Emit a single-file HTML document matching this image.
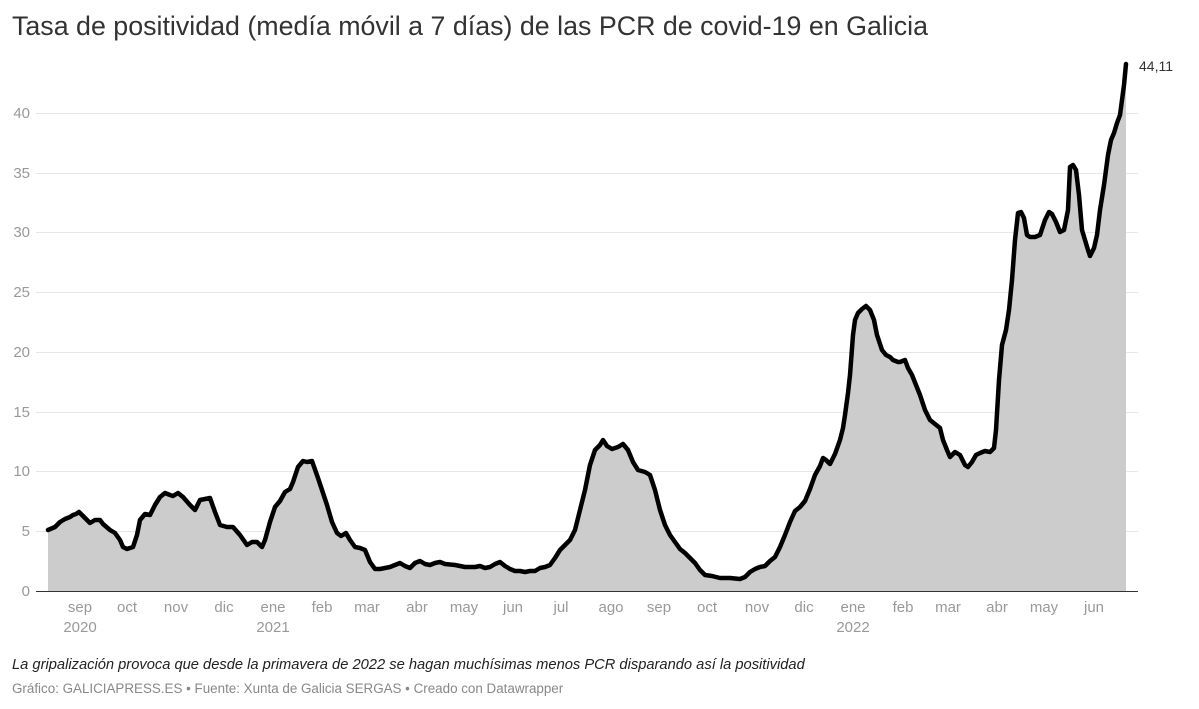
<!DOCTYPE html>
<html><head><meta charset="utf-8"><style>
html,body{margin:0;padding:0;background:#fff;width:1199px;height:709px;overflow:hidden;font-family:"Liberation Sans",sans-serif}
.t{position:absolute;left:12px;top:11px;font-size:26.8px;color:#333}
.n{position:absolute;left:12px;top:657px;font-size:14.7px;font-style:italic;color:#222}
.f{position:absolute;left:12px;top:681px;font-size:13.4px;color:#888}
</style></head><body>
<div class="t">Tasa de positividad (medía móvil a 7 días) de las PCR de covid-19 en Galicia</div>
<svg width="1199" height="709" style="position:absolute;left:0;top:0" font-family="Liberation Sans, sans-serif">
<g stroke="#e6e6e6" stroke-width="1">
<line x1="36" x2="1138" y1="113.5" y2="113.5"/><line x1="36" x2="1138" y1="173.5" y2="173.5"/><line x1="36" x2="1138" y1="232.5" y2="232.5"/><line x1="36" x2="1138" y1="292.5" y2="292.5"/><line x1="36" x2="1138" y1="352.5" y2="352.5"/><line x1="36" x2="1138" y1="412.5" y2="412.5"/><line x1="36" x2="1138" y1="471.5" y2="471.5"/><line x1="36" x2="1138" y1="531.5" y2="531.5"/>
</g>
<g fill="#999" font-size="15" text-anchor="end">
<text x="30" y="118">40</text><text x="30" y="178">35</text><text x="30" y="237">30</text><text x="30" y="297">25</text><text x="30" y="357">20</text><text x="30" y="417">15</text><text x="30" y="476">10</text><text x="30" y="536">5</text><text x="30" y="596">0</text>
</g>
<polygon fill="#cccccc" points="48,591 48,530 55,527 60,522 65,519 70,517 73,515 76,514 79,512 85,518 90,523 95,520 100,520 103,524 110,530 115,533 120,540 123,547 127,549 133,547 137,535 140,520 145,514 150,515 155,505 160,497 165,493 170,495 173,496 178,493 183,497 190,505 195,510 200,500 210,498 215,512 220,525 227,527 233,527 240,535 247,545 252,542 257,542 262,547 265,540 270,522 275,507 280,501 285,492 290,489 293,482 298,467 303,461 307,462 312,461 318,478 322,490 327,505 332,522 337,533 341,536 346,533 350,540 355,547 360,548 365,550 370,562 375,569 380,569 385,568 390,567 395,565 400,563 405,566 410,568 415,563 420,561 425,564 430,565 435,563 440,562 445,564 455,565 465,567 475,567 480,566 485,568 490,567 495,564 500,562 505,566 510,569 515,571 520,571 525,572 530,571 535,571 540,568 545,567 550,565 555,558 560,550 565,545 570,540 575,530 580,510 585,490 590,465 595,450 600,445 603,440 607,446 612,449 618,447 623,444 628,450 633,462 638,470 645,472 650,475 655,490 660,510 665,525 670,535 675,542 680,549 685,553 690,558 695,563 700,570 705,575 712,576 720,578 730,578 740,579 745,577 750,572 755,569 760,567 765,566 770,561 775,557 780,547 785,535 790,522 795,511 800,507 805,501 810,489 815,475 820,466 823,458 826,460 830,464 835,454 840,440 843,428 845,415 848,393 850,375 853,335 855,320 858,313 862,309 866,306 870,310 874,320 877,335 882,350 886,355 890,357 893,360 898,362 900,362 905,360 908,368 912,375 916,385 920,395 925,410 930,420 935,424 940,428 943,440 947,450 950,457 955,452 960,455 965,465 968,467 972,462 976,455 980,453 985,451 990,452 994,448 996,430 999,380 1002,345 1006,330 1009,310 1012,280 1015,240 1018,213 1021,212 1024,218 1027,235 1030,237 1035,237 1040,235 1045,220 1049,212 1052,214 1056,222 1060,232 1064,230 1068,210 1070,167 1073,165 1076,170 1079,195 1082,230 1085,240 1088,250 1090,256 1094,248 1097,235 1100,210 1104,185 1108,155 1111,140 1114,133 1117,123 1120,115 1122,100 1124,85 1126,64 1126,591"/>
<polyline fill="none" stroke="#000" stroke-width="4.5" stroke-linejoin="round" stroke-linecap="round" points="48,530 55,527 60,522 65,519 70,517 73,515 76,514 79,512 85,518 90,523 95,520 100,520 103,524 110,530 115,533 120,540 123,547 127,549 133,547 137,535 140,520 145,514 150,515 155,505 160,497 165,493 170,495 173,496 178,493 183,497 190,505 195,510 200,500 210,498 215,512 220,525 227,527 233,527 240,535 247,545 252,542 257,542 262,547 265,540 270,522 275,507 280,501 285,492 290,489 293,482 298,467 303,461 307,462 312,461 318,478 322,490 327,505 332,522 337,533 341,536 346,533 350,540 355,547 360,548 365,550 370,562 375,569 380,569 385,568 390,567 395,565 400,563 405,566 410,568 415,563 420,561 425,564 430,565 435,563 440,562 445,564 455,565 465,567 475,567 480,566 485,568 490,567 495,564 500,562 505,566 510,569 515,571 520,571 525,572 530,571 535,571 540,568 545,567 550,565 555,558 560,550 565,545 570,540 575,530 580,510 585,490 590,465 595,450 600,445 603,440 607,446 612,449 618,447 623,444 628,450 633,462 638,470 645,472 650,475 655,490 660,510 665,525 670,535 675,542 680,549 685,553 690,558 695,563 700,570 705,575 712,576 720,578 730,578 740,579 745,577 750,572 755,569 760,567 765,566 770,561 775,557 780,547 785,535 790,522 795,511 800,507 805,501 810,489 815,475 820,466 823,458 826,460 830,464 835,454 840,440 843,428 845,415 848,393 850,375 853,335 855,320 858,313 862,309 866,306 870,310 874,320 877,335 882,350 886,355 890,357 893,360 898,362 900,362 905,360 908,368 912,375 916,385 920,395 925,410 930,420 935,424 940,428 943,440 947,450 950,457 955,452 960,455 965,465 968,467 972,462 976,455 980,453 985,451 990,452 994,448 996,430 999,380 1002,345 1006,330 1009,310 1012,280 1015,240 1018,213 1021,212 1024,218 1027,235 1030,237 1035,237 1040,235 1045,220 1049,212 1052,214 1056,222 1060,232 1064,230 1068,210 1070,167 1073,165 1076,170 1079,195 1082,230 1085,240 1088,250 1090,256 1094,248 1097,235 1100,210 1104,185 1108,155 1111,140 1114,133 1117,123 1120,115 1122,100 1124,85 1126,64"/>
<line x1="36" x2="1138" y1="591.5" y2="591.5" stroke="#333" stroke-width="1"/>
<text x="1139" y="71" font-size="14" fill="#333">44,11</text>
<g fill="#999" font-size="15" text-anchor="middle">
<text x="80" y="612">sep</text><text x="80" y="632">2020</text>
<text x="127" y="612">oct</text><text x="176" y="612">nov</text><text x="224" y="612">dic</text>
<text x="273" y="612">ene</text><text x="273" y="632">2021</text>
<text x="322" y="612">feb</text><text x="367" y="612">mar</text><text x="417" y="612">abr</text><text x="464" y="612">may</text><text x="513" y="612">jun</text><text x="561" y="612">jul</text><text x="611" y="612">ago</text><text x="659" y="612">sep</text><text x="707" y="612">oct</text><text x="757" y="612">nov</text><text x="804" y="612">dic</text>
<text x="853" y="612">ene</text><text x="853" y="632">2022</text>
<text x="903" y="612">feb</text><text x="948" y="612">mar</text><text x="997" y="612">abr</text><text x="1044" y="612">may</text><text x="1094" y="612">jun</text>
</g>
</svg>
<div class="n">La gripalización provoca que desde la primavera de 2022 se hagan muchísimas menos PCR disparando así la positividad</div>
<div class="f">Gráfico: GALICIAPRESS.ES • Fuente: Xunta de Galicia SERGAS • Creado con Datawrapper</div>
</body></html>
